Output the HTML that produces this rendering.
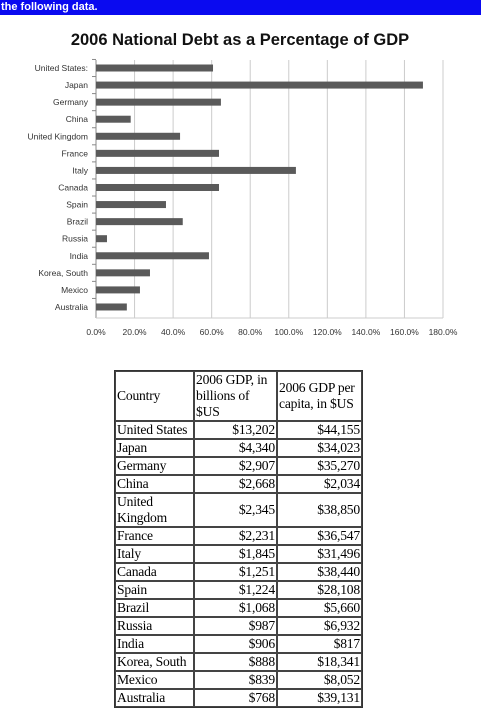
<!DOCTYPE html>
<html><head><meta charset="utf-8">
<style>
body{margin:0;width:481px;height:719px;background:#fff;position:relative;overflow:hidden;font-family:"Liberation Sans",sans-serif}
#hdr{position:absolute;left:0;top:0;width:481px;height:15px;background:#0a0af0;color:#fff;font-weight:bold;font-size:11px;line-height:15px;padding-left:1px}
#chart{position:absolute;left:0;top:15px}
table{position:absolute;left:114px;top:370px;border-collapse:separate;border-spacing:0;border:1px solid #333;font-family:"Liberation Serif",serif;font-size:13.6px;line-height:16px;table-layout:fixed;width:248px;letter-spacing:-0.2px}
td{border:1px solid #444;padding:0 1px;height:16px;white-space:normal;overflow:hidden}
td.n{text-align:right}
</style></head><body>
<div id="hdr">the following data.</div>
<svg id="chart" width="481" height="340"></svg>
<table>
<colgroup><col style="width:79px"><col style="width:83px"><col style="width:85px"></colgroup>
<tr style="height:50px"><td>Country</td><td>2006 GDP, in billions of $US</td><td>2006 GDP per capita, in $US</td></tr>
<tr><td style="white-space:nowrap">United States</td><td class="n">$13,202</td><td class="n">$44,155</td></tr>
<tr><td>Japan</td><td class="n">$4,340</td><td class="n">$34,023</td></tr>
<tr><td>Germany</td><td class="n">$2,907</td><td class="n">$35,270</td></tr>
<tr><td>China</td><td class="n">$2,668</td><td class="n">$2,034</td></tr>
<tr><td>United Kingdom</td><td class="n">$2,345</td><td class="n">$38,850</td></tr>
<tr><td>France</td><td class="n">$2,231</td><td class="n">$36,547</td></tr>
<tr><td>Italy</td><td class="n">$1,845</td><td class="n">$31,496</td></tr>
<tr><td>Canada</td><td class="n">$1,251</td><td class="n">$38,440</td></tr>
<tr><td>Spain</td><td class="n">$1,224</td><td class="n">$28,108</td></tr>
<tr><td>Brazil</td><td class="n">$1,068</td><td class="n">$5,660</td></tr>
<tr><td>Russia</td><td class="n">$987</td><td class="n">$6,932</td></tr>
<tr><td>India</td><td class="n">$906</td><td class="n">$817</td></tr>
<tr><td style="white-space:nowrap">Korea, South</td><td class="n">$888</td><td class="n">$18,341</td></tr>
<tr><td>Mexico</td><td class="n">$839</td><td class="n">$8,052</td></tr>
<tr><td>Australia</td><td class="n">$768</td><td class="n">$39,131</td></tr>
</table>
<script>
const categories=["United States:","Japan","Germany","China","United Kingdom","France","Italy","Canada","Spain","Brazil","Russia","India","Korea, South","Mexico","Australia"];
const debtPct=[60.7,169.6,64.8,18,43.6,63.8,103.7,63.8,36.3,45,5.7,58.6,28,22.8,16];
const tickValues=[0,20,40,60,80,100,120,140,160,180];
const tickLabels=["0.0%","20.0%","40.0%","60.0%","80.0%","100.0%","120.0%","140.0%","160.0%","180.0%"];
(function(){
const svg=document.getElementById('chart');const NS='http://www.w3.org/2000/svg';
const x0=96,x1=443,plotTop=45,step=17.07,firstY=53;
const X=v=>x0+(x1-x0)*v/180;const Y=i=>firstY+i*step;
function mk(t,a,txt){const e=document.createElementNS(NS,t);for(const k in a)e.setAttribute(k,a[k]);if(txt!=null)e.textContent=txt;svg.appendChild(e);return e;}
const ti=mk('text',{x:240,y:30,'text-anchor':'middle','font-size':'16.5','font-weight':'bold',fill:'#111','font-family':'Liberation Sans, sans-serif'},'2006 National Debt as a Percentage of GDP');


tickValues.forEach((v,i)=>{
 const g=mk('line',{x1:X(v),x2:X(v),y1:plotTop,y2:303,stroke:i==0?'#888':'#ccc','stroke-width':1});
 
 
 const t=mk('text',{x:X(v),y:320,'text-anchor':'middle','font-size':'8.5',fill:'#333'},tickLabels[i]);
 
 
});
mk('line',{x1:x0,x2:x1,y1:303,y2:303,stroke:'#ccc'});
categories.forEach((c,i)=>{
 const y=Y(i);
 const b=mk('rect',{x:x0,y:y-3.5,width:X(debtPct[i])-x0,height:7,fill:'#5a5a5a'});
 
 
 const l=mk('text',{x:88,y:y+3,'text-anchor':'end','font-size':'8.5',fill:'#333'},c);
 
 
 mk('line',{x1:92,x2:96,y1:y-step/2,y2:y-step/2,stroke:'#888'});
});
})();
</script>
</body></html>
